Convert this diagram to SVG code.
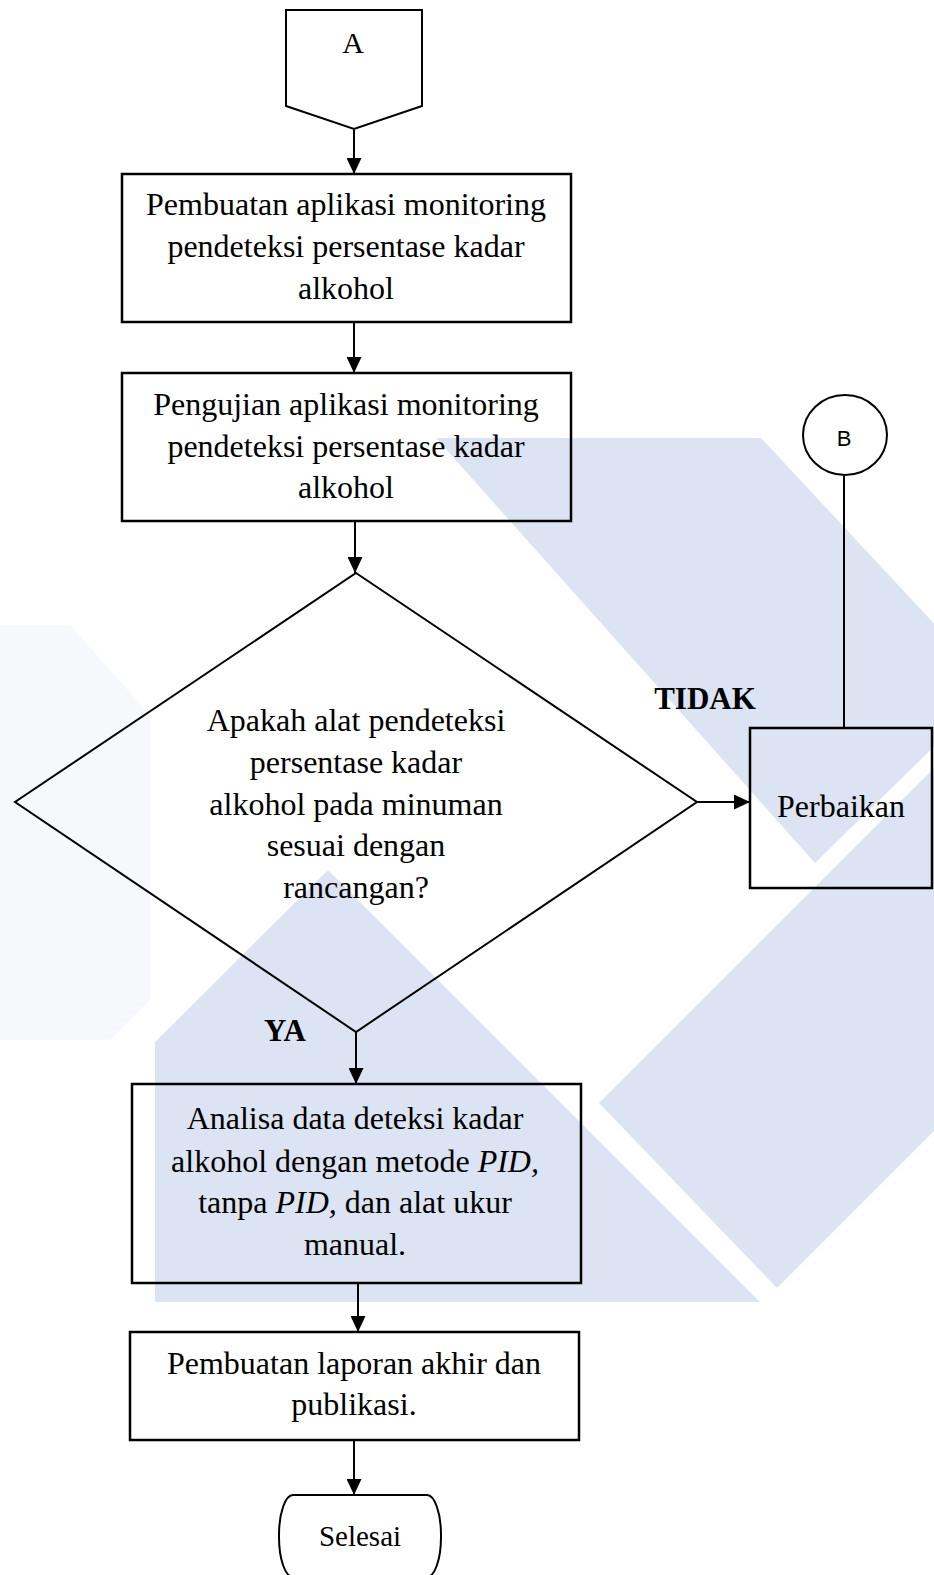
<svg xmlns="http://www.w3.org/2000/svg" width="934" height="1575" viewBox="0 0 934 1575">
<style>
.wm{fill:#dce3f2;stroke:none}
.wmf{fill:#f7f8fb;stroke:none}
.shape{fill:none;stroke:#000;stroke-width:2.5}
.thin{fill:none;stroke:#000;stroke-width:2}
.t{font-family:"Liberation Serif","Times New Roman",serif;font-size:32px;fill:#000;text-anchor:middle}
.b{font-family:"Liberation Serif","Times New Roman",serif;font-size:31px;font-weight:bold;fill:#000;text-anchor:middle}
.s{font-family:"Liberation Sans",Arial,sans-serif;font-size:22px;fill:#000;text-anchor:middle}
.c{fill:none;stroke:#000;stroke-width:2}
</style>
<defs>
<marker id="ah" markerUnits="userSpaceOnUse" markerWidth="16" markerHeight="15" refX="16" refY="7.5" orient="auto">
<path d="M0,0 L16,7.5 L0,15 z" fill="#000"/>
</marker>
</defs>
<rect width="934" height="1575" fill="#fff"/>
<g id="watermark">
<polygon class="wmf" points="0,625 70,625 150,715 150,1000 110,1040 0,1040"/>
<polygon class="wm" points="436,438 761,438 994,688 815,863"/>
<polygon class="wm" points="599,1103 934,768 934,1131 777,1288"/>
<polygon class="wm" points="155,1042 328,870 760,1302 155,1302"/>
</g>
<g id="connectors">
<line class="c" x1="354" y1="130" x2="354" y2="174" marker-end="url(#ah)"/>
<line class="c" x1="354" y1="322" x2="354" y2="373" marker-end="url(#ah)"/>
<line class="c" x1="355" y1="521" x2="355" y2="573" marker-end="url(#ah)"/>
<line class="c" x1="697" y1="802" x2="750" y2="802" marker-end="url(#ah)"/>
<line class="c" x1="844" y1="728" x2="844" y2="476"/>
<line class="c" x1="356" y1="1032" x2="356" y2="1084" marker-end="url(#ah)"/>
<line class="c" x1="358" y1="1283" x2="358" y2="1332" marker-end="url(#ah)"/>
<line class="c" x1="354" y1="1440" x2="354" y2="1495" marker-end="url(#ah)"/>
</g>
<g id="nodeA">
<polygon class="thin" points="286,10 422,10 422,106 354,129 286,106"/>
<text class="t" x="353" y="53" style="font-size:30px">A</text>
</g>
<g id="box1">
<rect class="shape" x="122" y="174" width="449" height="148"/>
<text class="t" x="346" y="215">Pembuatan aplikasi monitoring</text>
<text class="t" x="346" y="257">pendeteksi persentase kadar</text>
<text class="t" x="346" y="299">alkohol</text>
</g>
<g id="box2">
<rect class="shape" x="122" y="373" width="449" height="148"/>
<text class="t" x="346" y="415">Pengujian aplikasi monitoring</text>
<text class="t" x="346" y="457">pendeteksi persentase kadar</text>
<text class="t" x="346" y="498">alkohol</text>
</g>
<g id="decision">
<polygon class="thin" points="356,573 697,802 356,1032 15,802"/>
<text class="t" x="356" y="731">Apakah alat pendeteksi</text>
<text class="t" x="356" y="773">persentase kadar</text>
<text class="t" x="356" y="815">alkohol pada minuman</text>
<text class="t" x="356" y="856">sesuai dengan</text>
<text class="t" x="356" y="898">rancangan?</text>
</g>
<g id="labelTidak"><text class="b" x="705" y="709">TIDAK</text></g>
<g id="labelYa"><text class="b" x="285" y="1041">YA</text></g>
<g id="nodeB">
<ellipse class="thin" cx="845" cy="435" rx="42" ry="40"/>
<text class="s" x="844" y="446">B</text>
</g>
<g id="perbaikan">
<rect class="shape" x="750" y="728" width="182" height="160"/>
<text class="t" x="841" y="817">Perbaikan</text>
</g>
<g id="analisa">
<rect class="shape" x="132" y="1084" width="449" height="199"/>
<text class="t" x="355" y="1129">Analisa data deteksi kadar</text>
<text class="t" x="355" y="1172">alkohol dengan metode <tspan font-style="italic">PID,</tspan></text>
<text class="t" x="355" y="1213">tanpa <tspan font-style="italic">PID,</tspan> dan alat ukur</text>
<text class="t" x="355" y="1255">manual.</text>
</g>
<g id="laporan">
<rect class="shape" x="130" y="1332" width="449" height="108"/>
<text class="t" x="354" y="1374">Pembuatan laporan akhir dan</text>
<text class="t" x="354" y="1415">publikasi.</text>
</g>
<g id="selesai">
<rect class="thin" x="279" y="1495" width="162" height="82" rx="14" ry="40" fill="none"/>
<text class="t" x="360" y="1546" style="font-size:29px">Selesai</text>
</g>
</svg>
